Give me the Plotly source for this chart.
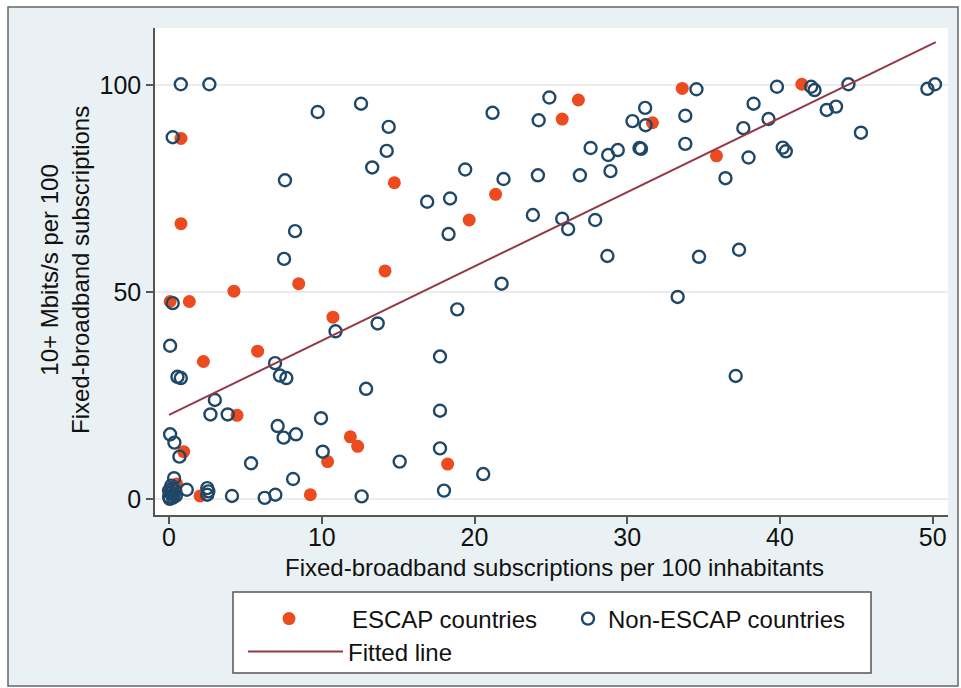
import plotly.graph_objects as go

# ---------------- data ----------------
escap_x = [0.78, 0.78, 14.75, 14.14, 8.49, 4.25, 0.07, 1.33, 10.73, 5.8, 2.25, 4.45,
           11.87, 12.35, 0.96, 10.38, 18.24, 2.03, 9.25, 26.8, 25.74, 33.6, 31.65,
           21.38, 19.65, 35.84, 41.43, 0.5, 0.2]
escap_y = [87.1, 66.5, 76.4, 55.1, 52.0, 50.2, 47.7, 47.7, 43.9, 35.7, 33.2, 20.2,
           15.0, 12.7, 11.4, 9.0, 8.4, 0.7, 1.0, 96.4, 91.8, 99.2, 90.9,
           73.6, 67.4, 82.9, 100.2, 3.6, 1.0]

non_x = [0.77, 2.64, 9.73, 12.57, 14.38, 14.25, 13.3, 16.9, 18.4, 18.3, 0.24, 7.59,
         8.25, 7.53, 0.24, 10.9, 13.66, 0.07, 6.94, 0.55, 0.77, 7.26, 7.68, 17.74,
         12.9, 3.0, 2.71, 3.84, 9.95, 17.74, 7.11, 0.07, 7.5, 8.31, 0.35, 0.68,
         10.06, 5.37, 15.1, 17.74, 0.33, 8.12, 1.16,
         0.0, 0.1, 0.2, 0.05, 0.3, 0.4, 0.15, 0.0, 0.25, 0.45,
         2.5, 2.57, 2.5, 4.12, 6.26, 6.96, 12.61, 18.0,
         21.18, 24.9, 24.2, 34.53, 31.17, 30.34, 31.2, 33.8, 33.8, 27.6, 28.75,
         29.38, 30.8, 30.9, 19.39, 21.9, 24.15, 26.9, 28.9, 23.82, 25.74, 26.13,
         27.9, 28.7, 34.7, 21.77, 33.3, 18.87, 20.57, 37.1, 39.8, 42.04, 42.26,
         44.48, 49.65, 50.15, 38.27, 39.25, 37.6, 43.06, 43.67, 45.3, 37.94,
         40.18, 40.38, 36.43, 37.32]
non_y = [100.2, 100.2, 93.5, 95.5, 89.9, 84.1, 80.1, 71.8, 72.6, 64.0, 87.4, 77.0,
         64.7, 58.0, 47.3, 40.5, 42.4, 37.0, 32.8, 29.5, 29.2, 29.8, 29.2, 34.4,
         26.6, 23.9, 20.4, 20.4, 19.5, 21.3, 17.6, 15.6, 14.8, 15.6, 13.6, 10.2,
         11.4, 8.6, 9.0, 12.2, 5.0, 4.8, 2.2,
         0.5, 1.5, 2.5, 0.0, 1.0, 2.0, 3.2, 2.0, 0.3, 0.8,
         2.6, 1.8, 1.0, 0.7, 0.24, 1.0, 0.6, 2.0,
         93.3, 97.0, 91.5, 99.0, 94.5, 91.3, 90.3, 92.6, 85.8, 84.8, 83.1,
         84.3, 84.8, 84.6, 79.6, 77.3, 78.2, 78.2, 79.2, 68.6, 67.7, 65.2,
         67.4, 58.7, 58.5, 52.0, 48.8, 45.8, 6.0, 29.7, 99.6, 99.6, 98.8,
         100.2, 99.1, 100.2, 95.5, 91.8, 89.6, 94.0, 94.8, 88.5, 82.5,
         84.9, 84.0, 77.5, 60.2]

fit_x = [0.0, 50.2]
fit_y = [20.3, 110.4]

x_ticks = [0, 10, 20, 30, 40, 50]
y_ticks = [0, 50, 100]

series_names = ["ESCAP countries", "Non-ESCAP countries", "Fitted line"]
x_title = "Fixed-broadband subscriptions per 100 inhabitants"
y_title = "10+ Mbits/s per 100<br>Fixed-broadband subscriptions"

# ---------------- styling ----------------
FONT = "Liberation Sans, Arial, Helvetica, sans-serif"
W, H = 961, 688
L, R, T, B = 155, 13, 28, 173
PW, PH = W - L - R, H - T - B

def px(xp):
    return (xp - L) / PW

def py(yp):
    return (H - B - yp) / PH

RED = "#ec4a1f"
BLUE = "#1f4868"
FIT = "#943a47"
AXC = "#555555"
TXT = "#111111"

fig = go.Figure()
fig.add_trace(go.Scatter(x=escap_x, y=escap_y, mode="markers", name=series_names[0],
                         marker=dict(size=13, color=RED, line=dict(width=0)),
                         legend="legend"))
fig.add_trace(go.Scatter(x=non_x, y=non_y, mode="markers", name=series_names[1],
                         marker=dict(size=12, symbol="circle-open", color=BLUE,
                                     line=dict(width=2.4, color=BLUE)),
                         legend="legend2"))
fig.add_trace(go.Scatter(x=fit_x, y=fit_y, mode="lines", name=series_names[2],
                         line=dict(color=FIT, width=2), legend="legend3"))

shapes = [
    # outer frame
    dict(type="rect", xref="paper", yref="paper", x0=px(8), x1=px(958), y0=py(686), y1=py(7),
         fillcolor="#eaf1f4", line=dict(color="#666666", width=1.5), layer="below"),
    # plot region
    dict(type="rect", xref="paper", yref="paper", x0=0, x1=1, y0=0, y1=1,
         fillcolor="white", line=dict(width=0), layer="below"),
    # legend box
    dict(type="rect", xref="paper", yref="paper", x0=px(233), x1=px(871), y0=py(673), y1=py(592),
         fillcolor="white", line=dict(color="#555555", width=1.5), layer="below"),
]

annotations = [
    dict(text=x_title, xref="paper", yref="paper", x=px(554), y=py(567), showarrow=False,
         xanchor="center", yanchor="middle", font=dict(size=24, family=FONT, color=TXT)),
    dict(text=y_title, xref="paper", yref="paper", x=px(65), y=py(270), showarrow=False,
         textangle=-90, xanchor="center", yanchor="middle",
         font=dict(size=24, family=FONT, color=TXT)),
]

leg_common = dict(orientation="h", xanchor="left", yanchor="middle",
                  bgcolor="rgba(0,0,0,0)", borderwidth=0,
                  font=dict(size=24, family=FONT, color=TXT))

fig.update_layout(
    width=W, height=H,
    margin=dict(l=L, r=R, t=T, b=B, pad=0),
    paper_bgcolor="white", plot_bgcolor="white",
    font=dict(family=FONT, color=TXT),
    shapes=shapes, annotations=annotations,
    xaxis=dict(range=[-0.92, 51.0], tickvals=x_ticks, showgrid=False, zeroline=False,
               showline=True, linecolor=AXC, linewidth=1.5, ticks="outside", ticklen=7,
               tickcolor=AXC, tickwidth=1.5, ticklabelstandoff=-8,
               tickfont=dict(size=25, family=FONT, color=TXT)),
    yaxis=dict(range=[-3.9, 113.8], tickvals=y_ticks, showgrid=True, gridcolor="#ececec",
               gridwidth=1.5, zeroline=False, showline=True, linecolor=AXC, linewidth=1.5,
               ticks="outside", ticklen=7, tickcolor=AXC, tickwidth=1.5,
               tickfont=dict(size=25, family=FONT, color=TXT)),
    legend=dict(leg_common, x=px(226), y=py(619), itemwidth=116),
    legend2=dict(leg_common, x=px(568), y=py(619), itemwidth=30),
    legend3=dict(leg_common, x=px(243), y=py(652), itemwidth=95),
    showlegend=True,
)

fig.write_html("out.html")
